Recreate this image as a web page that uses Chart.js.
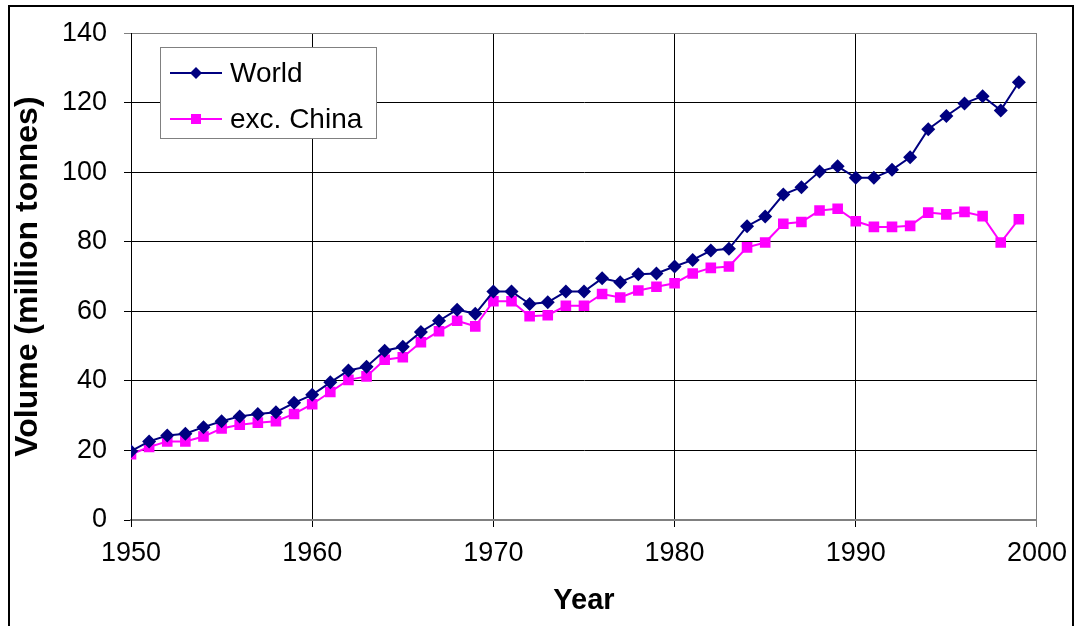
<!DOCTYPE html>
<html>
<head>
    <title>Volume (million tonnes)</title>
    <script src="https://cdn.jsdelivr.net/npm/chart.js"></script>
    <style>
        body { margin: 0; background: #fff; }
        canvas { display: block; }
    </style>
</head>
<body>
    <canvas id="volumeChart" width="1077" height="626"></canvas>

    <script>
        // Anni e volumi (milioni di tonnellate)
        const years = [];
        for (let y = 1950; y <= 1999; y++) years.push(y);

        const world = [
            19.8, 22.6, 24.3, 24.8, 26.7, 28.4, 29.8, 30.5, 31.0, 33.7,
            36.0, 39.6, 43.0, 44.1, 48.7, 49.8, 54.1, 57.3, 60.5, 59.3,
            65.7, 65.7, 62.1, 62.6, 65.7, 65.7, 69.5, 68.4, 70.7, 70.9,
            72.9, 74.8, 77.5, 78.0, 84.5, 87.3, 93.6, 95.7, 100.2, 101.7,
            98.4, 98.4, 100.7, 104.3, 112.4, 116.2, 119.8, 121.9, 117.8, 125.9
        ];
        const exChina = [
            18.9, 21.0, 22.6, 22.6, 24.0, 26.3, 27.4, 28.0, 28.4, 30.5,
            33.3, 36.8, 40.3, 41.3, 46.1, 46.8, 51.1, 54.3, 57.3, 55.7,
            62.9, 62.9, 58.6, 58.9, 61.6, 61.6, 65.0, 64.0, 66.0, 67.1,
            68.1, 70.9, 72.5, 72.9, 78.4, 79.8, 85.2, 85.7, 89.0, 89.5,
            85.9, 84.3, 84.3, 84.6, 88.4, 87.9, 88.6, 87.4, 79.8, 86.5
        ];

        const NAVY = '#000080';
        const MAGENTA = '#ff00ff';
        const FONT = "'Liberation Sans', Arial, sans-serif";

        // Legenda disegnata dentro l'area del grafico + cornice esterna
        const boxLegend = {
            id: 'boxLegend',
            afterDraw(chart) {
                const ctx = chart.ctx;
                ctx.save();
                ctx.fillStyle = '#fff';
                ctx.fillRect(160, 47, 216, 91);
                ctx.strokeStyle = '#808080';
                ctx.lineWidth = 1;
                ctx.strokeRect(160.5, 47.5, 216, 91);

                const rows = [
                    { ds: chart.data.datasets[0], y: 73 },
                    { ds: chart.data.datasets[1], y: 119 }
                ];
                rows.forEach(r => {
                    ctx.strokeStyle = r.ds.borderColor;
                    ctx.lineWidth = 2;
                    ctx.beginPath();
                    ctx.moveTo(170, r.y);
                    ctx.lineTo(222, r.y);
                    ctx.stroke();
                    ctx.fillStyle = r.ds.borderColor;
                    ctx.beginPath();
                    if (r.ds.pointStyle === 'rectRot') {
                        ctx.moveTo(196 - 6, r.y);
                        ctx.lineTo(196, r.y - 6);
                        ctx.lineTo(196 + 6, r.y);
                        ctx.lineTo(196, r.y + 6);
                        ctx.closePath();
                    } else {
                        ctx.rect(191, r.y - 5, 10, 10);
                    }
                    ctx.fill();
                    ctx.fillStyle = '#000';
                    ctx.font = '28px ' + FONT;
                    ctx.textBaseline = 'middle';
                    ctx.fillText(r.ds.label, 230, r.y + 1);
                });

                // cornice
                ctx.strokeStyle = '#000';
                ctx.lineWidth = 2;
                ctx.strokeRect(9, 6, 1064, 700);
                ctx.restore();
            }
        };

        new Chart(document.getElementById('volumeChart').getContext('2d'), {
            type: 'line',
            data: {
                datasets: [
                    {
                        label: 'World',
                        data: years.map((y, i) => ({ x: y, y: world[i] })),
                        borderColor: NAVY,
                        backgroundColor: NAVY,
                        borderWidth: 2,
                        pointStyle: 'rectRot',
                        pointRadius: 7,
                        pointBorderWidth: 0,
                        pointBackgroundColor: NAVY,
                        tension: 0
                    },
                    {
                        label: 'exc. China',
                        data: years.map((y, i) => ({ x: y, y: exChina[i] })),
                        borderColor: MAGENTA,
                        backgroundColor: MAGENTA,
                        borderWidth: 2,
                        pointStyle: 'rect',
                        pointRadius: 7.5,
                        pointBorderWidth: 0,
                        pointBackgroundColor: MAGENTA,
                        tension: 0
                    }
                ]
            },
            options: {
                responsive: false,
                animation: false,
                layout: { padding: { top: 30, right: 40, left: 0, bottom: 0 } },
                plugins: {
                    legend: { display: false },
                    tooltip: { enabled: false }
                },
                scales: {
                    x: {
                        type: 'linear',
                        min: 1950,
                        max: 2000,
                        afterFit(scale) { scale.height = 106; },
                        ticks: {
                            stepSize: 10,
                            padding: 10,
                            color: '#000',
                            font: { family: FONT, size: 27 },
                            maxRotation: 0,
                            callback: v => String(v)
                        },
                        grid: {
                            color: c => c.tick && c.tick.value === 2000 ? '#808080' : '#000',
                            lineWidth: 1,
                            tickLength: 7
                        },
                        border: { color: '#808080', width: 2 },
                        title: {
                            display: true,
                            text: 'Year',
                            color: '#000',
                            font: { family: FONT, size: 29, weight: 'bold' },
                            padding: { top: 0, bottom: 8 }
                        }
                    },
                    y: {
                        min: 0,
                        max: 140,
                        afterFit(scale) { scale.width = 131; },
                        ticks: {
                            stepSize: 20,
                            padding: 17,
                            color: '#000',
                            font: { family: FONT, size: 27 }
                        },
                        grid: {
                            color: c => c.tick && c.tick.value === 140 ? '#808080' : '#000',
                            lineWidth: 1,
                            tickLength: 7
                        },
                        border: { color: '#000', width: 1 },
                        title: {
                            display: true,
                            text: 'Volume (million tonnes)',
                            color: '#000',
                            font: { family: FONT, size: 32, weight: 'bold' },
                            padding: { top: 9, bottom: 0 }
                        }
                    }
                }
            },
            plugins: [boxLegend]
        });
    </script>
</body>
</html>
